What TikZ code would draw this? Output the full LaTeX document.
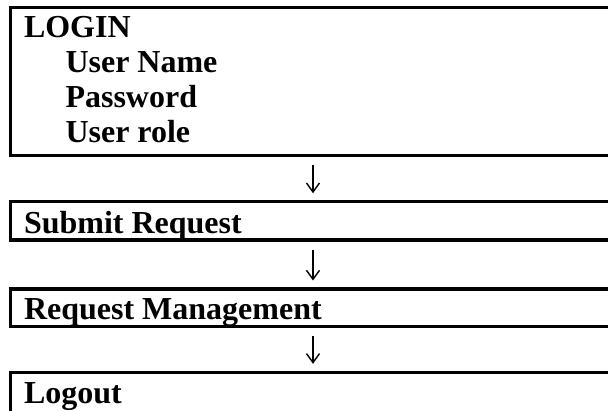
\documentclass[tikz,border=0pt]{standalone}
\usepackage{fontspec}
\setmainfont{Liberation Serif}
\usetikzlibrary{arrows.meta}
\begin{document}
\begin{tikzpicture}[x=1pt,y=1pt,
  stagebox/.style={draw=black, line width=3.4pt, rectangle, inner sep=0pt,
    outer sep=0pt, anchor=north west, minimum width=640pt},
  stagetext/.style={anchor=base west, inner sep=0pt, outer sep=0pt,
    font=\fontsize{32}{35}\selectfont\bfseries},
  flowarrow/.style={line width=1.4pt,
    -{Straight Barb[length=9pt,width=13pt,line width=1.4pt]}}]
\useasboundingbox (0,0) rectangle (608,-410);
\clip (0,0) rectangle (608,-410);

% stage boxes (they run past the right edge of the page)
\node[stagebox, minimum height=148.2pt] (login)  at (10.5,-7.5)   {};
\node[stagebox, minimum height=38.3pt]  (submit) at (10.5,-201.7) {};
\node[stagebox, minimum height=37.7pt]  (manage) at (10.5,-289)   {};
\node[stagebox, minimum height=60pt]    (logout) at (10.5,-372.3) {};

% box texts
\node[stagetext] (tlogin) at ([shift={(13.5,-29.5)}]login.north west) {LOGIN};
\node[stagetext] (tuser)  at ([shift={(55,-64.5)}]login.north west) {User Name};
\node[stagetext] (tpass)  at ([shift={(55,-100)}]login.north west) {Password};
\node[stagetext] (trole)  at ([shift={(55,-134.5)}]login.north west) {User role};
\node[stagetext] (tsub)   at ([shift={(13.5,-31.3)}]submit.north west) {Submit Request};
\node[stagetext] (tman)   at ([shift={(13.5,-30)}]manage.north west) {Request Management};
\node[stagetext] (tout)   at ([shift={(13.5,-30.7)}]logout.north west) {Logout};

% flow arrows
\coordinate (ax) at (313,0);
\draw[flowarrow, shorten <=9.5pt, shorten >=8.5pt] (login.south -| ax) -- (submit.north -| ax);
\draw[flowarrow, shorten <=10pt, shorten >=8.5pt] (submit.south -| ax) -- (manage.north -| ax);
\draw[flowarrow, shorten <=9.5pt, shorten >=8.5pt] (manage.south -| ax) -- (logout.north -| ax);
\end{tikzpicture}
\end{document}
